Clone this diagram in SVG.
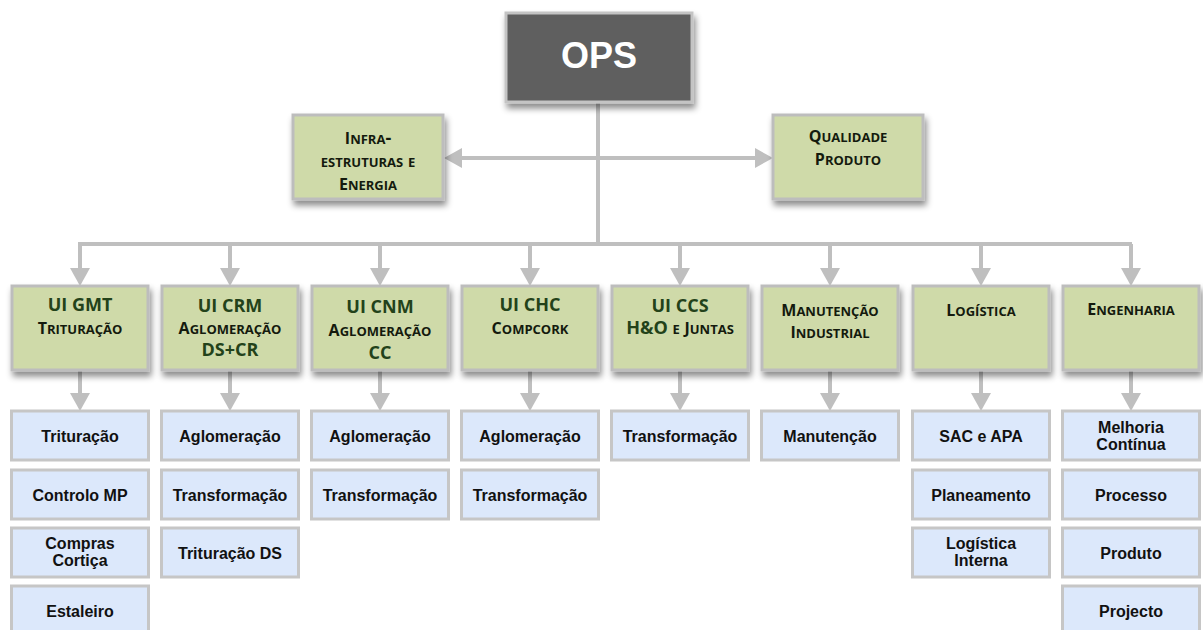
<svg xmlns="http://www.w3.org/2000/svg" width="1203" height="630" viewBox="0 0 1203 630">
<defs>
<filter id="sh" x="-10%" y="-10%" width="125%" height="135%">
<feDropShadow dx="2" dy="5" stdDeviation="3" flood-color="#000" flood-opacity="0.45"/>
</filter>
<marker id="arr" viewBox="0 0 18 20" refX="8" refY="10" markerWidth="18" markerHeight="20" markerUnits="userSpaceOnUse" orient="auto-start-reverse">
<path d="M0,0 L18,10 L0,20 z" fill="#bfbfbf"/>
</marker>
<style>
.ops{fill:#5f5f5f;stroke:#c4c4c4;stroke-width:3}
.g{fill:#cfdaa9;stroke:#bdbdbd;stroke-width:3}
.b{fill:#dce8fb;stroke:#c6c6c6;stroke-width:3}
.ln{stroke:#bfbfbf;stroke-width:4;fill:none}
.t{font-family:"Liberation Sans",Arial,sans-serif;font-weight:bold;font-size:16px;fill:#111;text-anchor:middle}
.opst{font-family:"Liberation Sans",Arial,sans-serif;font-weight:bold;font-size:36px;fill:#fff;text-anchor:middle}
.u{font-family:"Open Sans","Noto Sans",sans-serif;font-weight:bold;font-size:18px;fill:#23421a;text-anchor:middle}
.sc{font-family:"Open Sans","Noto Sans",sans-serif;font-weight:bold;font-size:18px;fill:#141a0e;text-anchor:middle;font-variant:small-caps}
.cp{font-size:16px}
</style>
</defs>

<g id="connectors">
<path class="ln" d="M598,102 V244"/>
<path class="ln" d="M78,244 H1132"/>
<path class="ln" d="M454,158 H763" marker-start="url(#arr)" marker-end="url(#arr)"/>
<path class="ln" d="M80,244 V276" marker-end="url(#arr)"/>
<path class="ln" d="M230,244 V276" marker-end="url(#arr)"/>
<path class="ln" d="M380,244 V276" marker-end="url(#arr)"/>
<path class="ln" d="M530,244 V276" marker-end="url(#arr)"/>
<path class="ln" d="M680,244 V276" marker-end="url(#arr)"/>
<path class="ln" d="M830,244 V276" marker-end="url(#arr)"/>
<path class="ln" d="M981,244 V276" marker-end="url(#arr)"/>
<path class="ln" d="M1131,244 V276" marker-end="url(#arr)"/>
<path class="ln" d="M80,370 V401" marker-end="url(#arr)"/>
<path class="ln" d="M230,370 V401" marker-end="url(#arr)"/>
<path class="ln" d="M380,370 V401" marker-end="url(#arr)"/>
<path class="ln" d="M530,370 V401" marker-end="url(#arr)"/>
<path class="ln" d="M680,370 V401" marker-end="url(#arr)"/>
<path class="ln" d="M830,370 V401" marker-end="url(#arr)"/>
<path class="ln" d="M981,370 V401" marker-end="url(#arr)"/>
<path class="ln" d="M1131,370 V401" marker-end="url(#arr)"/>
</g>

<g id="ops">
<rect class="ops" x="506" y="13" width="186" height="89" filter="url(#sh)"/>
<text class="opst" x="599" y="68">OPS</text>
</g>

<g id="infra">
<rect class="g" x="293" y="115" width="150" height="84" filter="url(#sh)"/>
<text class="sc" x="368" y="144"><tspan class="cp">I</tspan>nfra-</text>
<text class="sc" x="368" y="167">estruturas e</text>
<text class="sc" x="368" y="190"><tspan class="cp">E</tspan>nergia</text>
</g>

<g id="qualidade">
<rect class="g" x="773" y="115" width="150" height="84" filter="url(#sh)"/>
<text class="sc" x="848" y="142"><tspan class="cp">Q</tspan>ualidade</text>
<text class="sc" x="848" y="165"><tspan class="cp">P</tspan>roduto</text>
</g>

<g id="ui-gmt">
<rect class="g" x="12" y="286" width="136" height="84" filter="url(#sh)"/>
<text class="u" x="80" y="311">UI GMT</text>
<text class="sc" x="80" y="334"><tspan class="cp">T</tspan>rituração</text>
</g>
<g id="ui-crm">
<rect class="g" x="162" y="286" width="136" height="84" filter="url(#sh)"/>
<text class="u" x="230" y="312">UI CRM</text>
<text class="sc" x="230" y="334"><tspan class="cp">A</tspan>glomeração</text>
<text class="u" x="230" y="356">DS+CR</text>
</g>
<g id="ui-cnm">
<rect class="g" x="312" y="286" width="136" height="84" filter="url(#sh)"/>
<text class="u" x="380" y="313">UI CNM</text>
<text class="sc" x="380" y="336"><tspan class="cp">A</tspan>glomeração</text>
<text class="u" x="380" y="359">CC</text>
</g>
<g id="ui-chc">
<rect class="g" x="462" y="286" width="136" height="84" filter="url(#sh)"/>
<text class="u" x="530" y="311">UI CHC</text>
<text class="sc" x="530" y="334"><tspan class="cp">C</tspan>ompcork</text>
</g>
<g id="ui-ccs">
<rect class="g" x="612" y="286" width="136" height="84" filter="url(#sh)"/>
<text class="u" x="680" y="312">UI CCS</text>
<text class="sc" x="680" y="334"><tspan class="u" style="font-variant:normal">H&amp;O</tspan> e <tspan class="cp">J</tspan>untas</text>
</g>
<g id="manutencao-industrial">
<rect class="g" x="762" y="286" width="136" height="84" filter="url(#sh)"/>
<text class="sc" x="830" y="316"><tspan class="cp">M</tspan>anutenção</text>
<text class="sc" x="830" y="338"><tspan class="cp">I</tspan>ndustrial</text>
</g>
<g id="logistica">
<rect class="g" x="913" y="286" width="136" height="84" filter="url(#sh)"/>
<text class="sc" x="981" y="316"><tspan class="cp">L</tspan>ogística</text>
</g>
<g id="engenharia">
<rect class="g" x="1063" y="286" width="136" height="84" filter="url(#sh)"/>
<text class="sc" x="1131" y="315"><tspan class="cp">E</tspan>ngenharia</text>
</g>

<g id="gmt-trituracao"><rect class="b" x="11.5" y="411" width="137" height="49"/><text class="t" x="80" y="442">Trituração</text></g>
<g id="gmt-controlo-mp"><rect class="b" x="11.5" y="470" width="137" height="49"/><text class="t" x="80" y="501">Controlo MP</text></g>
<g id="gmt-compras-cortica"><rect class="b" x="11.5" y="528" width="137" height="49"/><text class="t" x="80" y="549">Compras</text><text class="t" x="80" y="566">Cortiça</text></g>
<g id="gmt-estaleiro"><rect class="b" x="11.5" y="586" width="137" height="49"/><text class="t" x="80" y="617">Estaleiro</text></g>

<g id="crm-aglomeracao"><rect class="b" x="161.5" y="411" width="137" height="49"/><text class="t" x="230" y="442">Aglomeração</text></g>
<g id="crm-transformacao"><rect class="b" x="161.5" y="470" width="137" height="49"/><text class="t" x="230" y="501">Transformação</text></g>
<g id="crm-trituracao-ds"><rect class="b" x="161.5" y="528" width="137" height="49"/><text class="t" x="230" y="559">Trituração DS</text></g>

<g id="cnm-aglomeracao"><rect class="b" x="311.5" y="411" width="137" height="49"/><text class="t" x="380" y="442">Aglomeração</text></g>
<g id="cnm-transformacao"><rect class="b" x="311.5" y="470" width="137" height="49"/><text class="t" x="380" y="501">Transformação</text></g>

<g id="chc-aglomeracao"><rect class="b" x="461.5" y="411" width="137" height="49"/><text class="t" x="530" y="442">Aglomeração</text></g>
<g id="chc-transformacao"><rect class="b" x="461.5" y="470" width="137" height="49"/><text class="t" x="530" y="501">Transformação</text></g>

<g id="ccs-transformacao"><rect class="b" x="611.5" y="411" width="137" height="49"/><text class="t" x="680" y="442">Transformação</text></g>

<g id="mi-manutencao"><rect class="b" x="761.5" y="411" width="137" height="49"/><text class="t" x="830" y="442">Manutenção</text></g>

<g id="log-sac-apa"><rect class="b" x="912.5" y="411" width="137" height="49"/><text class="t" x="981" y="442">SAC e APA</text></g>
<g id="log-planeamento"><rect class="b" x="912.5" y="470" width="137" height="49"/><text class="t" x="981" y="501">Planeamento</text></g>
<g id="log-logistica-interna"><rect class="b" x="912.5" y="528" width="137" height="49"/><text class="t" x="981" y="549">Logística</text><text class="t" x="981" y="566">Interna</text></g>

<g id="eng-melhoria-continua"><rect class="b" x="1062.5" y="411" width="137" height="49"/><text class="t" x="1131" y="433">Melhoria</text><text class="t" x="1131" y="450">Contínua</text></g>
<g id="eng-processo"><rect class="b" x="1062.5" y="470" width="137" height="49"/><text class="t" x="1131" y="501">Processo</text></g>
<g id="eng-produto"><rect class="b" x="1062.5" y="528" width="137" height="49"/><text class="t" x="1131" y="559">Produto</text></g>
<g id="eng-projecto"><rect class="b" x="1062.5" y="586" width="137" height="49"/><text class="t" x="1131" y="617">Projecto</text></g>
</svg>
